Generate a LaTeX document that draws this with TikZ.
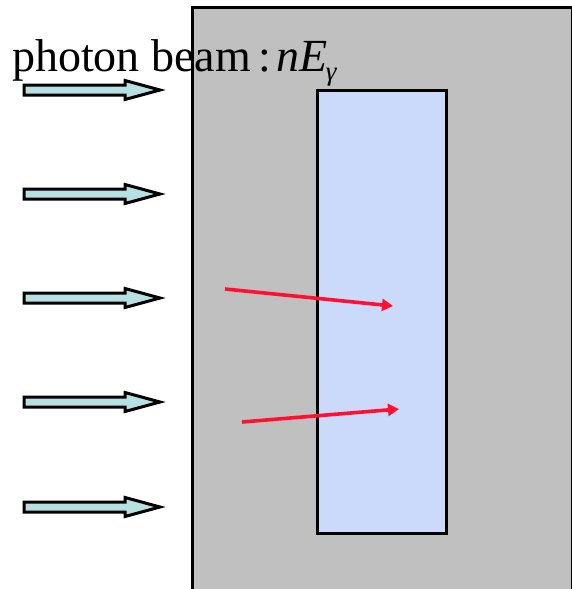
\documentclass[tikz,border=0pt]{standalone}
\usepackage{fontspec}
\setmainfont{Liberation Serif}
\usetikzlibrary{arrows.meta}
\definecolor{grayfill}{RGB}{192,192,192}
\definecolor{bluefill}{RGB}{203,217,251}
\definecolor{beamfill}{RGB}{183,224,226}
\definecolor{redray}{RGB}{255,16,48}
\tikzset{
  beam/.style={draw=black, line width=3pt, fill=beamfill, line join=miter},
  ray/.style={draw=redray, line width=3.6pt, -{Triangle[length=11pt,width=12pt]}},
  box/.style={draw=black, line width=2.8pt, inner sep=0pt, anchor=north west}
}
\newcommand{\beamarrow}[2]{%
  \draw[beam] (24,#1-5) -- (125,#1-5) -- (125,#1-9.5) -- (160,#1) -- (125,#1+9.5) -- (125,#1+5) -- (24,#1+5) -- cycle;
  \coordinate (#2) at (160,#1);}
\begin{document}
\begin{tikzpicture}[x=1pt,y=-1pt]
\useasboundingbox (0,0) rectangle (571,589);
\node[box, fill=grayfill, minimum width=380pt, minimum height=583pt] (target) at (191,6) {};
\node[box, fill=bluefill, minimum width=129pt, minimum height=443pt] (block) at (316,89) {};
\beamarrow{90}{b1}
\beamarrow{194}{b2}
\beamarrow{298}{b3}
\beamarrow{402}{b4}
\beamarrow{507}{b5}
\coordinate (r1s) at (225,289);
\coordinate (r1e) at (393,306);
\coordinate (r2s) at (242,422);
\coordinate (r2e) at (399,409);
\draw[ray] (r1s) -- (r1e);
\draw[ray] (r2s) -- (r2e);
\node[anchor=base west, inner sep=0pt, font=\fontsize{46}{50}\selectfont] (label) at (12,71)
  {photon beam\kern7pt:\kern6pt\textit{nE}\kern-2pt\raisebox{-9pt}{\fontsize{27}{30}\selectfont\textit{γ}}};
\end{tikzpicture}
\end{document}
